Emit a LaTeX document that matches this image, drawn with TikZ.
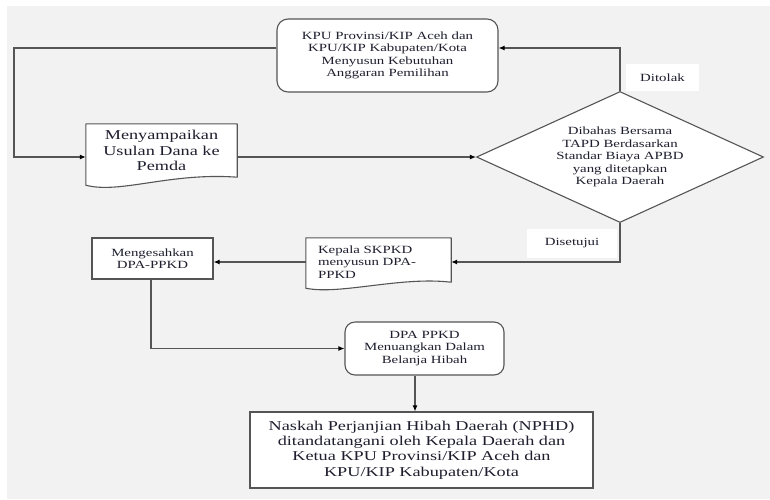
\documentclass[tikz,border=0pt]{standalone}
\usepackage{fontspec}
\setmainfont{Liberation Serif}[FakeStretch=1.35]
\usetikzlibrary{arrows.meta,shapes.geometric,calc,backgrounds}
\definecolor{paper}{HTML}{F2F2F2}
\definecolor{ink}{HTML}{1E1E2E}
\definecolor{edge}{HTML}{555555}
\begin{document}
\begin{tikzpicture}[x=1pt,y=-1pt,
  small/.style={font=\fontsize{11}{12.4}\selectfont},
  large/.style={font=\fontsize{13.5}{15.2}\selectfont},
  base/.style={text=ink, align=center, inner sep=0pt},
  roundbox/.style={base, small, draw=edge, line width=1.1pt, fill=white, rounded corners=11pt},
  plainbox/.style={base, draw=edge, line width=1.1pt, fill=white},
  docbox/.style={base},
  docline/.style={draw=edge, fill=white, line width=1.1pt, line join=round},
  decision/.style={base, small, draw=edge, line width=1.1pt, fill=white, diamond, shape aspect=2.2},
  tag/.style={base, small, fill=white},
  arr/.style={draw=edge, line width=1.1pt, -{Latex[length=6pt,width=5pt,color=black]}},
  link/.style={draw=edge, line width=1.1pt}]

% page and grey backdrop
\useasboundingbox (0,0) rectangle (770,499);
\begin{scope}[on background layer]
  \fill[white] (0,0) rectangle (770,499);
  \fill[paper] (7,6) rectangle (770,499);
\end{scope}

% budget proposal drafted by the election commission
\node[roundbox, minimum width=221pt, minimum height=73pt] (kpu) at (387.5,55.5)
  {KPU Provinsi/KIP Aceh dan\\KPU/KIP Kabupaten/Kota\\Menyusun Kebutuhan\\Anggaran Pemilihan};

% submission to the regional government (document shape)
\node[docbox, large, minimum width=151pt, minimum height=53pt, text depth=-5pt] (usulan) at (161.5,150.5)
  {Menyampaikan\\Usulan Dana ke\\Pemda};
\begin{scope}[on background layer]
\draw[docline] (usulan.north west) -- (usulan.north east)
  -- (usulan.south east)
  .. controls ($(usulan.south east)+(-67,-5)$) and ($(usulan.south west)+(34,17)$) .. ($(usulan.south west)+(0,8)$)
  -- cycle;
\end{scope}

% review with TAPD
\node[decision, minimum width=287pt, minimum height=131pt] (dec) at (620,157)
  {Dibahas Bersama\\TAPD Berdasarkan\\Standar Biaya APBD\\yang ditetapkan\\Kepala Daerah};

% SKPKD drafts the DPA (document shape)
\node[docbox, small, align=left, text width=121pt, inner xsep=12pt, minimum height=48pt] (skpkd) at (378.5,262)
  {Kepala SKPKD\\menyusun DPA-\\PPKD};
\begin{scope}[on background layer]
\draw[docline] (skpkd.north west) -- (skpkd.north east)
  -- ($(skpkd.south east)+(0,-4)$)
  .. controls ($(skpkd.south east)+(-51,-10)$) and ($(skpkd.south west)+(34,9)$) .. ($(skpkd.south west)+(0,2)$)
  -- cycle;
\end{scope}

% approval of the DPA
\node[plainbox, small, minimum width=121pt, minimum height=41pt] (sah) at (152.5,258.5)
  {Mengesahkan\\DPA-PPKD};

% grant expenditure
\node[roundbox, minimum width=159pt, minimum height=53pt, rounded corners=10pt] (dpa) at (424.5,348.5)
  {DPA PPKD\\Menuangkan Dalam\\Belanja Hibah};

% grant agreement
\node[plainbox, large, minimum width=343pt, minimum height=76pt] (nphd) at (421.5,450)
  {Naskah Perjanjian Hibah Daerah (NPHD)\\ditandatangani oleh Kepala Daerah dan\\Ketua KPU Provinsi/KIP Aceh dan\\KPU/KIP Kabupaten/Kota};

% connectors
\draw[arr] ($(kpu.west)+(0,-7.5)$) -- (14,48) |- ($(usulan.west)+(0,6.5)$);
\draw[arr] (usulan.east |- dec.west) -- (dec.west);
\draw[arr] (dec.north) |- ($(kpu.east)+(0,-7.5)$);
\draw[arr] (dec.south) |- (skpkd.east);
\draw[arr] (skpkd.west) -- (skpkd.west -| sah.east);
\draw[arr] ([xshift=-1.5pt]sah.south) |- (dpa.west);
\draw[arr] ([xshift=-9.5pt]dpa.south) -- ([xshift=-9.5pt]dpa.south |- nphd.north);

% branch labels
\node[tag, minimum width=73pt, minimum height=27pt] (tolak) at (662.5,77.5) {Ditolak};
\node[tag, minimum width=90pt, minimum height=29pt] (setuju) at (572,243.5) {Disetujui};
\end{tikzpicture}
\end{document}
